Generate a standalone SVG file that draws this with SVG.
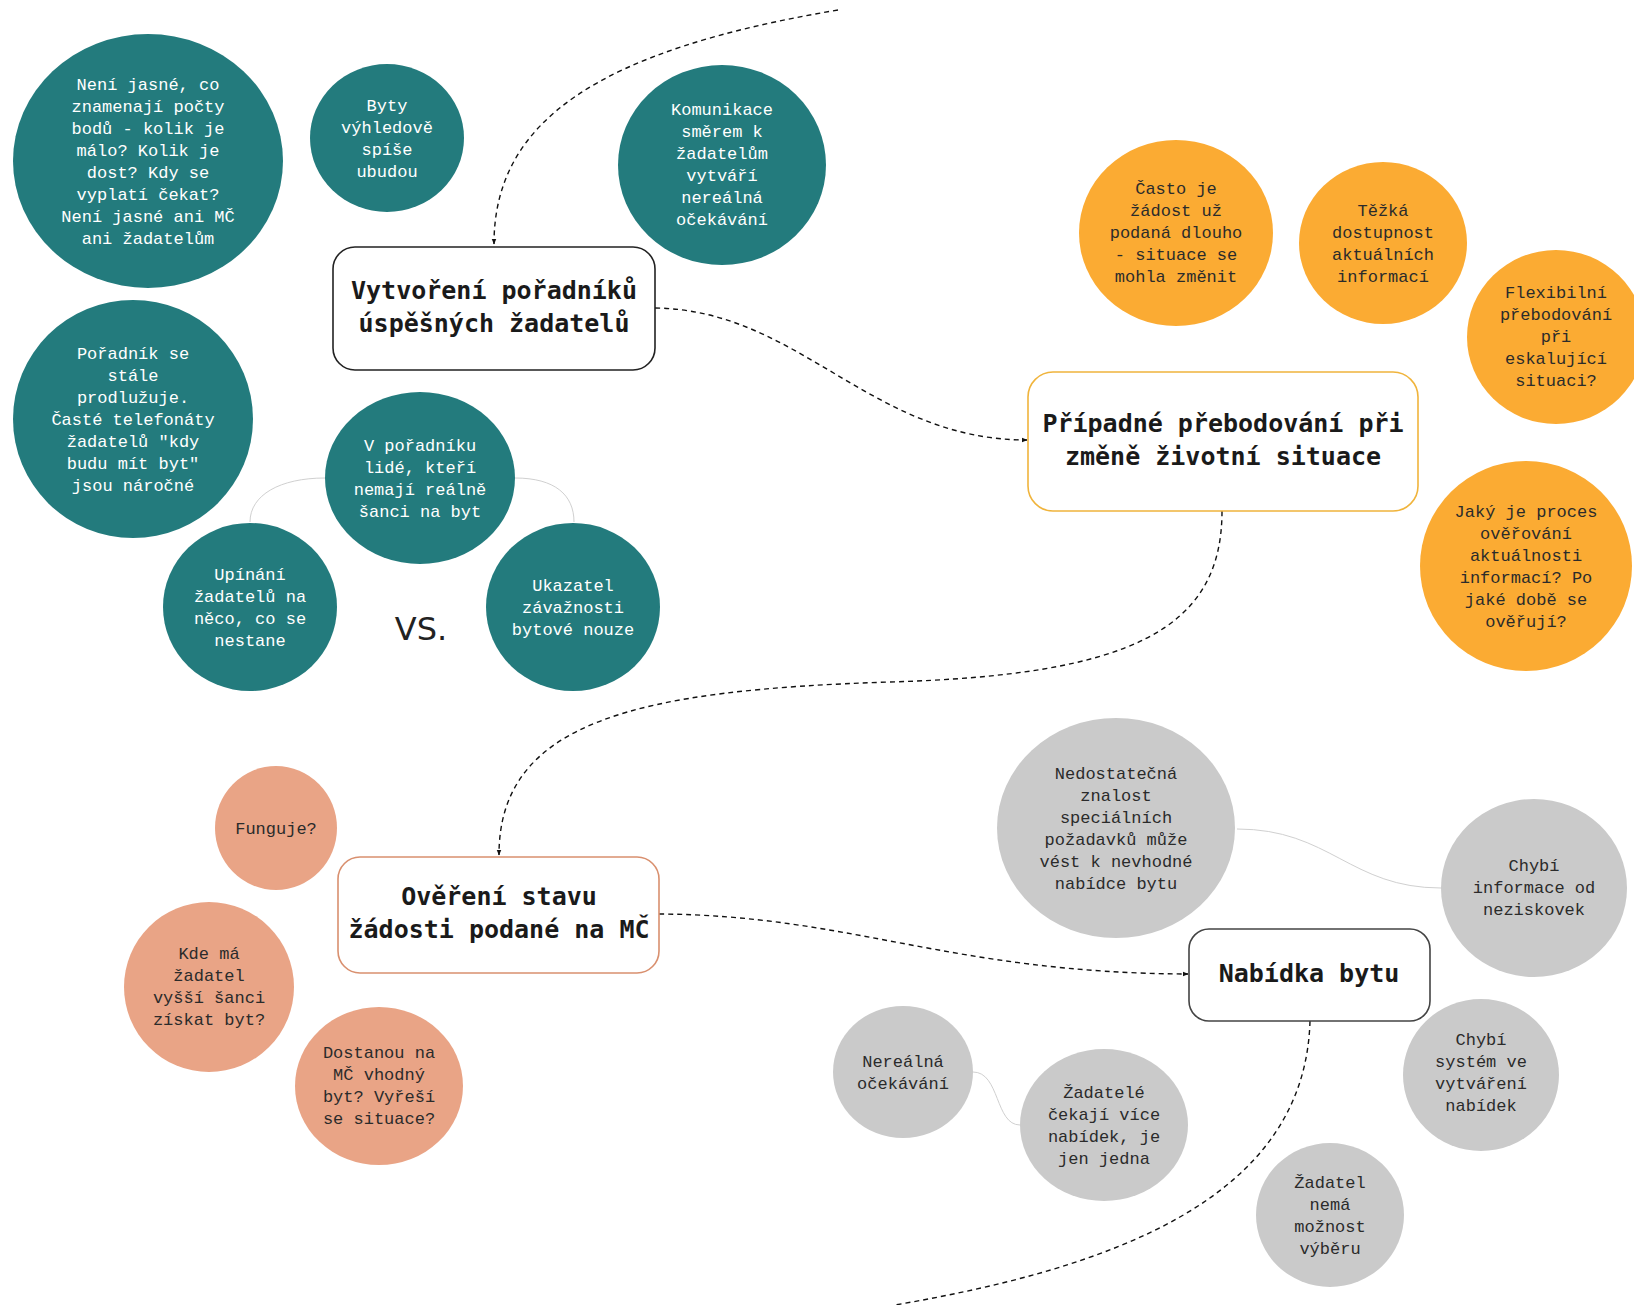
<svg xmlns="http://www.w3.org/2000/svg" width="1634" height="1305" viewBox="0 0 1634 1305">
<style>
.t{font-family:"Liberation Mono","DejaVu Sans Mono",monospace;font-size:17px;text-anchor:middle}
.w{fill:#ffffff}
.d{fill:#2b2b2b}
.h{font-family:"DejaVu Sans Mono","Liberation Mono",monospace;font-size:25px;font-weight:bold;text-anchor:middle;fill:#1a1a1a}
.teal{fill:#237b7d}
.org{fill:#fbab33}
.sal{fill:#e9a486}
.gry{fill:#cacaca}
.box{fill:#ffffff;stroke-width:1.6}
.dash{fill:none;stroke:#111;stroke-width:1.4;stroke-dasharray:5 4}
.thin{fill:none;stroke:#d0d0d0;stroke-width:1}
</style>
<defs>
<marker id="arr" viewBox="0 0 10 10" refX="9" refY="5" markerWidth="6" markerHeight="6" orient="auto" markerUnits="userSpaceOnUse">
<path d="M0,1 L10,5 L0,9 z" fill="#111"/>
</marker>
</defs>
<rect width="1634" height="1305" fill="#ffffff"/>

<g id="connectors">
<path class="dash" d="M 838 10 C 600 50, 494 120, 494 244" marker-end="url(#arr)"/>
<path class="dash" d="M 655 308 C 800 310, 870 440, 1027 440" marker-end="url(#arr)"/>
<path class="dash" d="M 1222 511 C 1222 630, 1130 675, 890 682 C 640 690, 499 720, 499 855" marker-end="url(#arr)"/>
<path class="dash" d="M 659 914 C 850 915, 950 973, 1188 974" marker-end="url(#arr)"/>
<path class="dash" d="M 1310 1021 C 1305 1200, 1110 1268, 895 1305"/>
<path class="thin" d="M 250 522 C 250 495, 280 478, 325 478"/>
<path class="thin" d="M 515 478 C 555 478, 574 495, 574 522"/>
<path class="thin" d="M 1237 829 C 1330 829, 1350 888, 1441 888"/>
<path class="thin" d="M 973 1072 C 1000 1072, 995 1125, 1020 1125"/>
</g>

<g id="n-box1">
<rect class="box" x="333" y="247" width="322" height="123" rx="22" stroke="#222"/>
<text class="h" x="494" y="299">Vytvoření pořadníků</text>
<text class="h" x="494" y="332">úspěšných žadatelů</text>
</g>
<g id="n-box2">
<rect class="box" x="1028" y="372" width="390" height="139" rx="25" stroke="#f0b43c"/>
<text class="h" x="1223" y="432">Případné přebodování při</text>
<text class="h" x="1223" y="465">změně životní situace</text>
</g>
<g id="n-box3">
<rect class="box" x="338" y="857" width="321" height="116" rx="22" stroke="#d9906f"/>
<text class="h" x="499" y="905">Ověření stavu</text>
<text class="h" x="499" y="938">žádosti podané na MČ</text>
</g>
<g id="n-box4">
<rect class="box" x="1189" y="929" width="241" height="92" rx="20" stroke="#444"/>
<text class="h" x="1309" y="982">Nabídka bytu</text>
</g>

<g id="n-c1">
<ellipse class="teal" cx="148" cy="161" rx="135" ry="127"/>
<text class="t w" x="148" y="90">Není jasné, co</text>
<text class="t w" x="148" y="112">znamenají počty</text>
<text class="t w" x="148" y="134">bodů - kolik je</text>
<text class="t w" x="148" y="156">málo? Kolik je</text>
<text class="t w" x="148" y="178">dost? Kdy se</text>
<text class="t w" x="148" y="200">vyplatí čekat?</text>
<text class="t w" x="148" y="222">Není jasné ani MČ</text>
<text class="t w" x="148" y="244">ani žadatelům</text>
</g>
<g id="n-c2">
<ellipse class="teal" cx="387" cy="138" rx="77" ry="74"/>
<text class="t w" x="387" y="111">Byty</text>
<text class="t w" x="387" y="133">výhledově</text>
<text class="t w" x="387" y="155">spíše</text>
<text class="t w" x="387" y="177">ubudou</text>
</g>
<g id="n-c3">
<ellipse class="teal" cx="722" cy="165" rx="104" ry="100"/>
<text class="t w" x="722" y="115">Komunikace</text>
<text class="t w" x="722" y="137">směrem k</text>
<text class="t w" x="722" y="159">žadatelům</text>
<text class="t w" x="722" y="181">vytváří</text>
<text class="t w" x="722" y="203">nereálná</text>
<text class="t w" x="722" y="225">očekávání</text>
</g>
<g id="n-c4">
<ellipse class="teal" cx="133" cy="419" rx="120" ry="119"/>
<text class="t w" x="133" y="359">Pořadník se</text>
<text class="t w" x="133" y="381">stále</text>
<text class="t w" x="133" y="403">prodlužuje.</text>
<text class="t w" x="133" y="425">Časté telefonáty</text>
<text class="t w" x="133" y="447">žadatelů "kdy</text>
<text class="t w" x="133" y="469">budu mít byt"</text>
<text class="t w" x="133" y="491">jsou náročné</text>
</g>
<g id="n-c5">
<ellipse class="teal" cx="420" cy="478" rx="95" ry="86"/>
<text class="t w" x="420" y="451">V pořadníku</text>
<text class="t w" x="420" y="473">lidé, kteří</text>
<text class="t w" x="420" y="495">nemají reálně</text>
<text class="t w" x="420" y="517">šanci na byt</text>
</g>
<g id="n-c6">
<ellipse class="teal" cx="250" cy="607" rx="87" ry="84"/>
<text class="t w" x="250" y="580">Upínání</text>
<text class="t w" x="250" y="602">žadatelů na</text>
<text class="t w" x="250" y="624">něco, co se</text>
<text class="t w" x="250" y="646">nestane</text>
</g>
<g id="n-c7">
<ellipse class="teal" cx="573" cy="607" rx="87" ry="84"/>
<text class="t w" x="573" y="591">Ukazatel</text>
<text class="t w" x="573" y="613">závažnosti</text>
<text class="t w" x="573" y="635">bytové nouze</text>
</g>
<text x="421" y="640" font-family="'DejaVu Sans','Liberation Sans',sans-serif" font-size="32" text-anchor="middle" fill="#222">VS.</text>

<g id="n-o1">
<ellipse class="org" cx="1176" cy="233" rx="97" ry="93"/>
<text class="t d" x="1176" y="194">Často je</text>
<text class="t d" x="1176" y="216">žádost už</text>
<text class="t d" x="1176" y="238">podaná dlouho</text>
<text class="t d" x="1176" y="260">- situace se</text>
<text class="t d" x="1176" y="282">mohla změnit</text>
</g>
<g id="n-o2">
<ellipse class="org" cx="1383" cy="243" rx="84" ry="81"/>
<text class="t d" x="1383" y="216">Těžká</text>
<text class="t d" x="1383" y="238">dostupnost</text>
<text class="t d" x="1383" y="260">aktuálních</text>
<text class="t d" x="1383" y="282">informací</text>
</g>
<g id="n-o3">
<ellipse class="org" cx="1556" cy="337" rx="89" ry="87"/>
<text class="t d" x="1556" y="298">Flexibilní</text>
<text class="t d" x="1556" y="320">přebodování</text>
<text class="t d" x="1556" y="342">při</text>
<text class="t d" x="1556" y="364">eskalující</text>
<text class="t d" x="1556" y="386">situaci?</text>
</g>
<g id="n-o4">
<ellipse class="org" cx="1526" cy="566" rx="106" ry="105"/>
<text class="t d" x="1526" y="517">Jaký je proces</text>
<text class="t d" x="1526" y="539">ověřování</text>
<text class="t d" x="1526" y="561">aktuálnosti</text>
<text class="t d" x="1526" y="583">informací? Po</text>
<text class="t d" x="1526" y="605">jaké době se</text>
<text class="t d" x="1526" y="627">ověřují?</text>
</g>

<g id="n-s1">
<ellipse class="sal" cx="276" cy="828" rx="61" ry="62"/>
<text class="t d" x="276" y="834">Funguje?</text>
</g>
<g id="n-s2">
<ellipse class="sal" cx="209" cy="987" rx="85" ry="85"/>
<text class="t d" x="209" y="959">Kde má</text>
<text class="t d" x="209" y="981">žadatel</text>
<text class="t d" x="209" y="1003">vyšší šanci</text>
<text class="t d" x="209" y="1025">získat byt?</text>
</g>
<g id="n-s3">
<ellipse class="sal" cx="379" cy="1086" rx="84" ry="79"/>
<text class="t d" x="379" y="1058">Dostanou na</text>
<text class="t d" x="379" y="1080">MČ vhodný</text>
<text class="t d" x="379" y="1102">byt? Vyřeší</text>
<text class="t d" x="379" y="1124">se situace?</text>
</g>

<g id="n-g1">
<ellipse class="gry" cx="1116" cy="828" rx="119" ry="110"/>
<text class="t d" x="1116" y="779">Nedostatečná</text>
<text class="t d" x="1116" y="801">znalost</text>
<text class="t d" x="1116" y="823">speciálních</text>
<text class="t d" x="1116" y="845">požadavků může</text>
<text class="t d" x="1116" y="867">vést k nevhodné</text>
<text class="t d" x="1116" y="889">nabídce bytu</text>
</g>
<g id="n-g2">
<ellipse class="gry" cx="1534" cy="888" rx="93" ry="89"/>
<text class="t d" x="1534" y="871">Chybí</text>
<text class="t d" x="1534" y="893">informace od</text>
<text class="t d" x="1534" y="915">neziskovek</text>
</g>
<g id="n-g3">
<ellipse class="gry" cx="1481" cy="1075" rx="78" ry="76"/>
<text class="t d" x="1481" y="1045">Chybí</text>
<text class="t d" x="1481" y="1067">systém ve</text>
<text class="t d" x="1481" y="1089">vytváření</text>
<text class="t d" x="1481" y="1111">nabídek</text>
</g>
<g id="n-g4">
<ellipse class="gry" cx="903" cy="1072" rx="70" ry="66"/>
<text class="t d" x="903" y="1067">Nereálná</text>
<text class="t d" x="903" y="1089">očekávání</text>
</g>
<g id="n-g5">
<ellipse class="gry" cx="1104" cy="1125" rx="84" ry="76"/>
<text class="t d" x="1104" y="1098">Žadatelé</text>
<text class="t d" x="1104" y="1120">čekají více</text>
<text class="t d" x="1104" y="1142">nabídek, je</text>
<text class="t d" x="1104" y="1164">jen jedna</text>
</g>
<g id="n-g6">
<ellipse class="gry" cx="1330" cy="1215" rx="74" ry="72"/>
<text class="t d" x="1330" y="1188">Žadatel</text>
<text class="t d" x="1330" y="1210">nemá</text>
<text class="t d" x="1330" y="1232">možnost</text>
<text class="t d" x="1330" y="1254">výběru</text>
</g>
</svg>
